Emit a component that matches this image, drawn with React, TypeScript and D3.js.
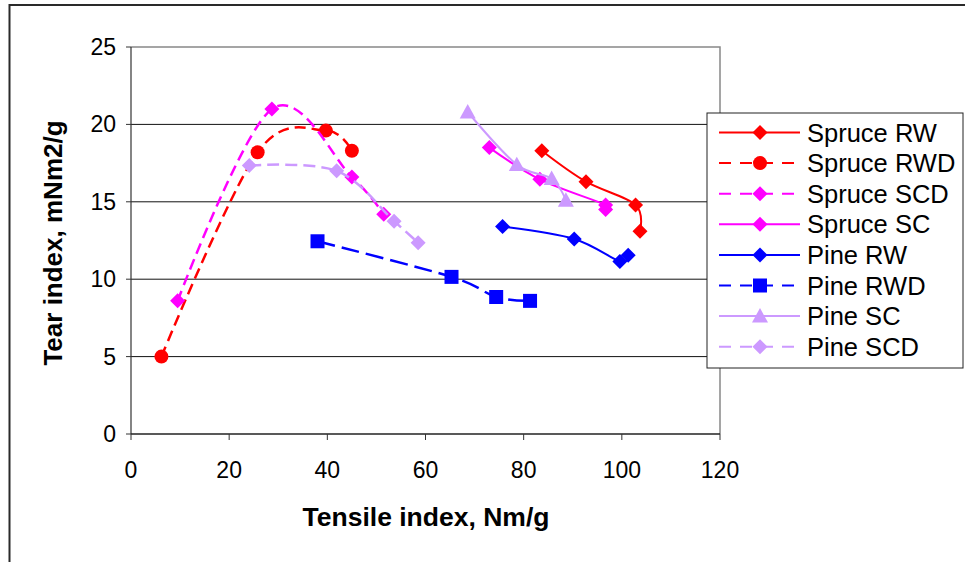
import React from "react";
import * as d3 from "d3";

const W = 965;
const H = 562;

const xTicks = [0, 20, 40, 60, 80, 100, 120];
const yTicks = [0, 5, 10, 15, 20, 25];

const spruceRW: [number, number][] = [[83.7, 18.3], [92.7, 16.3], [102.8, 14.8], [103.7, 13.1]];
const spruceRWD: [number, number][] = [[6.2, 5.0], [25.8, 18.2], [39.7, 19.6], [45.0, 18.3]];
const spruceSCD: [number, number][] = [[9.5, 8.6], [28.7, 21.0], [45.0, 16.6], [51.5, 14.2]];
const spruceSC: [number, number][] = [[73.0, 18.5], [83.3, 16.45], [96.7, 14.8], [96.7, 14.5]];
const pineRW: [number, number][] = [[75.7, 13.4], [90.3, 12.6], [99.6, 11.15], [101.3, 11.55]];
const pineRWD: [number, number][] = [[38.0, 12.45], [65.3, 10.15], [74.4, 8.85], [81.3, 8.6]];
const pineSC: [number, number][] = [[68.6, 20.8], [78.6, 17.4], [85.7, 16.5], [88.6, 15.1]];
const pineSCD: [number, number][] = [[24.1, 17.35], [41.9, 17.0], [53.6, 13.75], [58.5, 12.35]];

const seriesNames = ["Spruce RW", "Spruce RWD", "Spruce SCD", "Spruce SC", "Pine RW", "Pine RWD", "Pine SC", "Pine SCD"];
const seriesData = [spruceRW, spruceRWD, spruceSCD, spruceSC, pineRW, pineRWD, pineSC, pineSCD];
const seriesColors = ["#FF0000", "#FF0000", "#FF00FF", "#FF00FF", "#0000FF", "#0000FF", "#CC99FF", "#CC99FF"];
const seriesDash = ["", "11,6", "11,6", "", "", "18,7", "", "12,6"];
const seriesMarker = ["diamond", "circle", "diamond", "diamond", "diamond", "square", "triangle", "diamond"];

const plot = { left: 131, right: 720, top: 47, bottom: 434 };
const FONT = "'Liberation Sans', Arial, sans-serif";

function Marker({ type, x, y, color }: { type: string; x: number; y: number; color: string }) {
  if (type === "circle") return <circle cx={x} cy={y} r={7} fill={color} />;
  if (type === "square") return <rect x={x - 7} y={y - 7} width={14} height={14} fill={color} />;
  if (type === "triangle") {
    const s = 8;
    return <path d={`M${x},${y - s}L${x + s},${y + s * 0.8}L${x - s},${y + s * 0.8}Z`} fill={color} />;
  }
  const d = 7.5;
  return <path d={`M${x},${y - d}L${x + d},${y}L${x},${y + d}L${x - d},${y}Z`} fill={color} />;
}

export default function App() {
  const x = d3.scaleLinear().domain([0, 120]).range([plot.left, plot.right]);
  const y = d3.scaleLinear().domain([0, 25]).range([plot.bottom, plot.top]);
  const line = d3
    .line<[number, number]>()
    .x((d) => x(d[0]))
    .y((d) => y(d[1]))
    .curve(d3.curveCatmullRom.alpha(0));

  const legend = { x: 707, y: 113, w: 256, h: 255, row0: 132.5, step: 30.6 };

  return (
    <svg width={W} height={H} style={{ position: "absolute", left: 0, top: 0, background: "#fff" }}>
      <rect x={0} y={0} width={W} height={H} fill="#fff" />
      <path d={`M9.5,${H}V5H${W}`} fill="none" stroke="#2a2a2a" strokeWidth={2} />

      {yTicks.filter((t) => t > 0 && t < 25).map((t) => (
        <line key={"g" + t} x1={plot.left} x2={plot.right} y1={y(t)} y2={y(t)} stroke="#111" strokeWidth={1} />
      ))}
      <path d={`M${plot.left},${plot.top}H${plot.right}V${plot.bottom}`} fill="none" stroke="#888" strokeWidth={1.5} />
      <line x1={plot.left} x2={plot.left} y1={plot.top} y2={plot.bottom} stroke="#333" strokeWidth={1.2} />
      <line x1={plot.left} x2={plot.right} y1={plot.bottom} y2={plot.bottom} stroke="#222" strokeWidth={1.5} />
      {yTicks.map((t) => (
        <g key={"yt" + t}>
          <line x1={plot.left - 5} x2={plot.left} y1={y(t)} y2={y(t)} stroke="#333" strokeWidth={1} />
          <text x={116} y={y(t) + 8} textAnchor="end" fontFamily={FONT} fontSize={23} fill="#000">
            {t}
          </text>
        </g>
      ))}
      {xTicks.map((t) => (
        <g key={"xt" + t}>
          <line x1={x(t)} x2={x(t)} y1={plot.bottom} y2={plot.bottom + 6} stroke="#333" strokeWidth={1} />
          <text x={x(t)} y={478} textAnchor="middle" fontFamily={FONT} fontSize={23} fill="#000">
            {t}
          </text>
        </g>
      ))}
      <text x={426} y={526} textAnchor="middle" fontFamily={FONT} fontWeight="bold" fontSize={26.5} fill="#000">
        Tensile index, Nm/g
      </text>
      <text
        transform={`translate(62,243) rotate(-90)`}
        textAnchor="middle"
        fontFamily={FONT}
        fontWeight="bold"
        fontSize={26}
        fill="#000"
      >
        Tear index, mNm2/g
      </text>

      {seriesData.map((data, i) => (
        <g key={"s" + i}>
          <path
            d={line(data) || ""}
            fill="none"
            stroke={seriesColors[i]}
            strokeWidth={seriesDash[i] ? 2.5 : 2}
            strokeDasharray={seriesDash[i] || undefined}
          />
          {data.map((d, j) => (
            <Marker key={j} type={seriesMarker[i]} x={x(d[0])} y={y(d[1])} color={seriesColors[i]} />
          ))}
        </g>
      ))}

      <rect x={legend.x} y={legend.y} width={legend.w} height={legend.h} fill="#fff" stroke="#222" strokeWidth={1} />
      {seriesNames.map((name, i) => {
        const cy = legend.row0 + i * legend.step;
        return (
          <g key={"l" + i}>
            <line
              x1={719}
              x2={800}
              y1={cy}
              y2={cy}
              stroke={seriesColors[i]}
              strokeWidth={2}
              strokeDasharray={seriesDash[i] ? "12,9" : undefined}
            />
            <Marker type={seriesMarker[i]} x={760} y={cy} color={seriesColors[i]} />
            <text x={807} y={cy + 9} fontFamily={FONT} fontSize={25.5} fill="#000">
              {name}
            </text>
          </g>
        );
      })}
    </svg>
  );
}
